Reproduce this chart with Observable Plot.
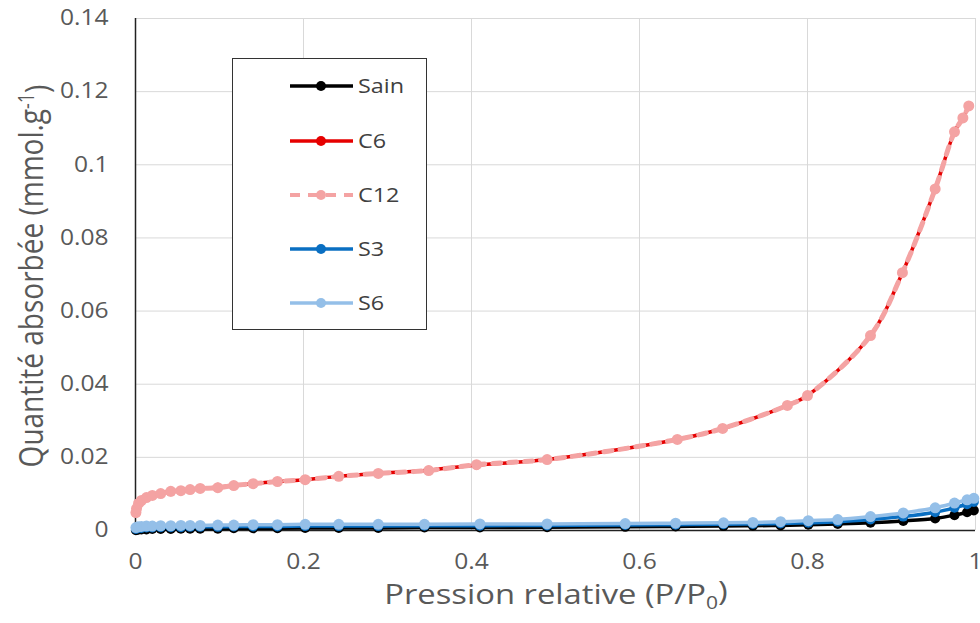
<!DOCTYPE html>
<html>
<head>
<meta charset="utf-8">
<script src="https://cdn.jsdelivr.net/npm/d3@7"></script>
<script src="https://cdn.jsdelivr.net/npm/@observablehq/plot@0.6"></script>
<style>
  body { margin: 0; background: #fff; font-family: "Open Sans", sans-serif; }
  #wrap { position: relative; width: 980px; height: 623px; }
  #legend { position: absolute; left: 232px; top: 58px; width: 193px; height: 270px;
            border: 1.5px solid #333; background: #fff; }
</style>
</head>
<body>
<div id="wrap"><div id="chart"></div><div id="legend"></div></div>
<script>
// ---- data ----
const seriesNames = ["Sain", "C6", "C12", "S3", "S6"];
const seriesColors = ["#000000", "#e60000", "#f4a3a3", "#0a6fc2", "#94bfe8"];

const xC = [0.0005, 0.0012, 0.0036, 0.007, 0.013, 0.020, 0.030, 0.042, 0.054, 0.065, 0.077, 0.098, 0.117, 0.140, 0.169, 0.202, 0.242, 0.289, 0.349, 0.406, 0.490, 0.645, 0.699, 0.776, 0.800, 0.875, 0.913, 0.952, 0.975, 0.985, 0.992];
const yC6 = [0.0048, 0.0060, 0.0073, 0.0082, 0.0090, 0.0096, 0.0101, 0.0106, 0.0109, 0.0112, 0.0115, 0.0118, 0.0123, 0.0128, 0.0134, 0.0139, 0.0148, 0.0156, 0.0165, 0.0179, 0.0194, 0.0249, 0.0279, 0.0342, 0.0369, 0.0533, 0.0705, 0.0934, 0.1090, 0.1128, 0.1160];
const yC12 = [0.0049, 0.0060, 0.0074, 0.0082, 0.0090, 0.0096, 0.0101, 0.0107, 0.0109, 0.0112, 0.0115, 0.0117, 0.0123, 0.0128, 0.0134, 0.0139, 0.0148, 0.0156, 0.0164, 0.0180, 0.0194, 0.0249, 0.0279, 0.0342, 0.0369, 0.0533, 0.0705, 0.0934, 0.1090, 0.1128, 0.1161];

const xS = [0.0005, 0.003, 0.007, 0.013, 0.020, 0.030, 0.042, 0.054, 0.065, 0.077, 0.098, 0.117, 0.140, 0.169, 0.202, 0.242, 0.289, 0.344, 0.410, 0.490, 0.583, 0.643, 0.700, 0.735, 0.768, 0.801, 0.836, 0.875, 0.914, 0.952, 0.975, 0.990, 0.998];
const ySain = [0.0001, 0.0002, 0.0003, 0.0003, 0.0004, 0.0004, 0.0004, 0.0005, 0.0005, 0.0005, 0.0005, 0.0006, 0.0006, 0.0006, 0.0007, 0.0007, 0.0007, 0.0008, 0.0008, 0.0009, 0.0010, 0.0011, 0.0012, 0.0013, 0.0014, 0.0016, 0.0018, 0.0021, 0.0026, 0.0033, 0.0042, 0.0050, 0.0055];
const yS3 = [0.0004, 0.0006, 0.0007, 0.0008, 0.0008, 0.0009, 0.0009, 0.0009, 0.0010, 0.0010, 0.0010, 0.0011, 0.0011, 0.0011, 0.0012, 0.0012, 0.0012, 0.0013, 0.0013, 0.0014, 0.0015, 0.0016, 0.0017, 0.0018, 0.0019, 0.0021, 0.0024, 0.0030, 0.0038, 0.0050, 0.0062, 0.0072, 0.0078];
const yS6 = [0.0008, 0.0010, 0.0011, 0.0012, 0.0012, 0.0013, 0.0013, 0.0014, 0.0014, 0.0014, 0.0015, 0.0015, 0.0016, 0.0016, 0.0017, 0.0017, 0.0017, 0.0017, 0.0018, 0.0018, 0.0019, 0.0020, 0.0021, 0.0022, 0.0024, 0.0027, 0.0030, 0.0038, 0.0048, 0.0062, 0.0075, 0.0084, 0.0088];

const yTicks = [0, 0.02, 0.04, 0.06, 0.08, 0.1, 0.12, 0.14];
const yTickLabels = ["0", "0.02", "0.04", "0.06", "0.08", "0.1", "0.12", "0.14"];
const xTicks = [0, 0.2, 0.4, 0.6, 0.8, 1];
const xTickLabels = ["0", "0.2", "0.4", "0.6", "0.8", "1"];

// ---- build tables ----
const mk = (xs, ys) => xs.map((x, i) => ({x, y: ys[i]}));
const dSain = mk(xS, ySain), dC6 = mk(xC, yC6), dC12 = mk(xC, yC12), dS3 = mk(xS, yS3), dS6 = mk(xS, yS6);
const col = Object.fromEntries(seriesNames.map((n, i) => [n, seriesColors[i]]));

const curve = "catmull-rom";
const textColor = "#595959";
const STRETCH = 1.17; // the reference text is horizontally wide

const chart = Plot.plot({
  width: 980,
  height: 623,
  marginLeft: 135,
  marginRight: 5,
  marginTop: 18,
  marginBottom: 93,
  style: {fontFamily: "Open Sans, sans-serif", fontSize: "21px", color: textColor, background: "#fff"},
  x: {domain: [0, 1], axis: null},
  y: {domain: [0, 0.14], axis: null},
  marks: [
    Plot.gridX(xTicks, {stroke: "#d9d9d9", strokeOpacity: 1, strokeWidth: 1}),
    Plot.gridY(yTicks, {stroke: "#d9d9d9", strokeOpacity: 1, strokeWidth: 1}),
    // tick labels
    Plot.text(xTicks, {x: d => d, text: (d, i) => xTickLabels[i], frameAnchor: "bottom", lineAnchor: "middle",
      dy: 32, fill: textColor, fontSize: 21}),
    Plot.text(yTicks, {y: d => d, text: (d, i) => yTickLabels[i], frameAnchor: "left", textAnchor: "end",
      dx: -27, fill: textColor, fontSize: 21}),
    Plot.ruleY([0], {stroke: "#222", strokeWidth: 1.5}),
    Plot.ruleX([0], {stroke: "#222", strokeWidth: 1.5}),
    // Sain
    Plot.line(dSain, {x: "x", y: "y", stroke: col.Sain, strokeWidth: 3.5, curve}),
    Plot.dot(dSain, {x: "x", y: "y", fill: col.Sain, r: 5}),
    // C6
    Plot.line(dC6, {x: "x", y: "y", stroke: col.C6, strokeWidth: 3.5, curve}),
    Plot.dot(dC6, {x: "x", y: "y", fill: col.C6, r: 4.5}),
    // C12
    Plot.line(dC12, {x: "x", y: "y", stroke: col.C12, strokeWidth: 5, strokeDasharray: "8,8", curve}),
    Plot.dot(dC12, {x: "x", y: "y", fill: col.C12, r: 5.5}),
    // S3
    Plot.line(dS3, {x: "x", y: "y", stroke: col.S3, strokeWidth: 3.5, curve}),
    Plot.dot(dS3, {x: "x", y: "y", fill: col.S3, r: 5}),
    // S6
    Plot.line(dS6, {x: "x", y: "y", stroke: col.S6, strokeWidth: 3.5, curve}),
    Plot.dot(dS6, {x: "x", y: "y", fill: col.S6, r: 5.5})
  ]
});
document.getElementById("chart").appendChild(chart);

// widen tick labels like the reference
d3.select(chart).selectAll("g[aria-label='text'] text").each(function () {
  const w = this.getComputedTextLength();
  this.setAttribute("textLength", w * STRETCH);
  this.setAttribute("lengthAdjust", "spacingAndGlyphs");
});

// ---- axis titles with sub/superscripts ----
const svg = d3.select(chart);
const yt = svg.append("text")
  .attr("transform", `translate(32,276) rotate(-90) scale(1,${STRETCH})`)
  .attr("text-anchor", "middle")
  .attr("dy", "0.35em")
  .attr("fill", textColor)
  .style("font-size", "28px")
  .style("font-family", "Open Sans, sans-serif");
yt.append("tspan").text("Quantité absorbée (mmol.g");
yt.append("tspan").attr("dy", "-0.45em").style("font-size", "18px").text("-1");
yt.append("tspan").attr("dy", "0.45em").text(")");

const xt = svg.append("text")
  .attr("transform", `translate(556,604) scale(${STRETCH},1)`)
  .attr("text-anchor", "middle")
  .attr("fill", textColor)
  .style("font-size", "28px")
  .style("font-family", "Open Sans, sans-serif");
xt.append("tspan").text("Pression relative (P/P");
xt.append("tspan").attr("dy", "0.3em").style("font-size", "18px").text("0");
xt.append("tspan").attr("dy", "-0.3em").text(")");

// ---- legend ----
const lg = d3.select("#legend").append("svg").attr("width", 193).attr("height", 270);
const rowY = [27, 82, 136, 190, 244];
seriesNames.forEach((name, i) => {
  const g = lg.append("g").attr("transform", `translate(0,${rowY[i]})`);
  const dashed = name === "C12";
  g.append("line").attr("x1", 57).attr("x2", 120).attr("y1", 0).attr("y2", 0)
    .attr("stroke", seriesColors[i]).attr("stroke-width", dashed ? 4 : 3.5)
    .attr("stroke-dasharray", dashed ? "10,8" : null);
  g.append("circle").attr("cx", 88).attr("cy", 0).attr("r", 5).attr("fill", seriesColors[i]);
  g.append("text").attr("transform", `translate(125,0) scale(${STRETCH},1)`).attr("dy", "0.35em")
    .attr("fill", "#404040").style("font-size", "20px").style("font-family", "Open Sans, sans-serif")
    .text(name);
});
</script>
</body>
</html>
